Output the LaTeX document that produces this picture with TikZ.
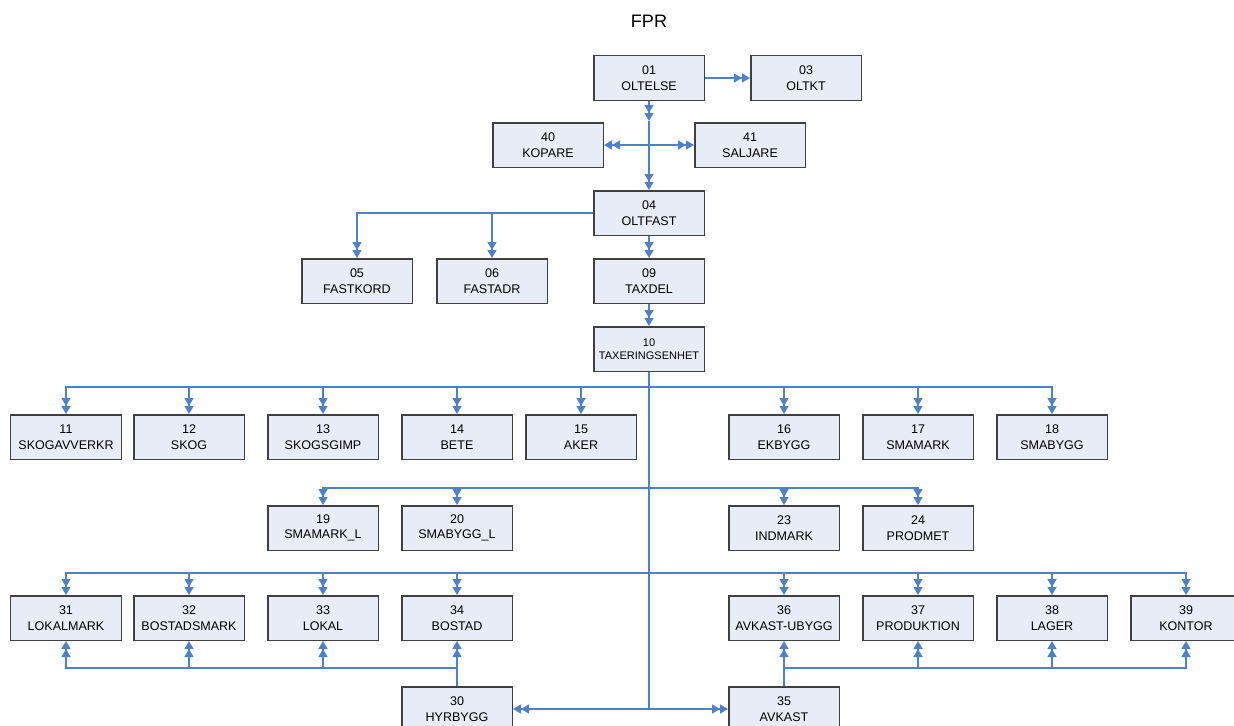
\documentclass[tikz,border=0pt]{standalone}
\usepackage{fontspec}
\setmainfont{Liberation Sans}
\usepackage{tikz}
\usetikzlibrary{positioning,arrows.meta}

\definecolor{fill-a}{RGB}{231,236,246}
\definecolor{edge-a}{RGB}{64,64,64}
\definecolor{wire-a}{RGB}{79,129,199}

\begin{document}
\begin{tikzpicture}
[
x=0.3mm, y=-0.3mm,
box-a/.style={rectangle, draw=edge-a, line width=0.45mm, fill=fill-a, inner sep=0mm,
              minimum width=33.15mm, minimum height=13.35mm, align=center,
              font=\fontsize{10.7}{13.4}\selectfont},
box-b/.style={box-a, font=\fontsize{9.4}{10.8}\selectfont},
title-a/.style={black, font=\fontsize{15.4}{18}\selectfont},
line-a/.style={draw=wire-a, line width=0.40mm},
arr-a/.style={line-a, -{Triangle[length=2.40mm,width=2.70mm]Triangle[length=2.40mm,width=2.70mm]}},
arr-b/.style={line-a, {Triangle[length=2.40mm,width=2.70mm]Triangle[length=2.40mm,width=2.70mm]}-{Triangle[length=2.40mm,width=2.70mm]Triangle[length=2.40mm,width=2.70mm]}}
]
\useasboundingbox (0,0) rectangle (1234,726);
\node (title) [title-a] at (649,21) {FPR};
% top part
\node (n01) [box-a] at (649,78)                  {01\\OLTELSE};
\node (n03) [box-a, right =  13.50mm of n01]     {03\\OLTKT};
\node (n40) [box-a] at (548,145)                 {40\\KOPARE};
\node (n41) [box-a] at (750,145)                 {41\\SALJARE};
\node (n04) [box-a, below =  26.70mm of n01]     {04\\OLTFAST};
\node (n09) [box-a, below =  06.60mm of n04]     {09\\TAXDEL};
\node (n10) [box-b, below =  06.60mm of n09]     {10\\TAXERINGSENHET};
\node (n06) [box-a, left  =  13.50mm of n09]     {06\\FASTADR};
\node (n05) [box-a, left  =  06.90mm of n06]     {05\\FASTKORD};
% first row
\node (n11) [box-a] at (66,437)                  {11\\SKOGAVVERKR};
\node (n12) [box-a, right =  03.30mm of n11]     {12\\SKOG};
\node (n13) [box-a, right =  06.60mm of n12]     {13\\SKOGSGIMP};
\node (n14) [box-a, right =  06.60mm of n13]     {14\\BETE};
\node (n15) [box-a, right =  03.60mm of n14]     {15\\AKER};
\node (n16) [box-a, right =  27.30mm of n15]     {16\\EKBYGG};
\node (n17) [box-a, right =  06.60mm of n16]     {17\\SMAMARK};
\node (n18) [box-a, right =  06.60mm of n17]     {18\\SMABYGG};
% second row
\node (n19) [box-a, below =  13.50mm of n13]     {19\\SMAMARK\_L};
\node (n20) [box-a, below =  13.50mm of n14]     {20\\SMABYGG\_L};
\node (n23) [box-a, below =  13.50mm of n16]     {23\\INDMARK};
\node (n24) [box-a, below =  13.50mm of n17]     {24\\PRODMET};
% third row
\node (n31) [box-a, below =  40.50mm of n11]     {31\\LOKALMARK};
\node (n32) [box-a, below =  40.50mm of n12]     {32\\BOSTADSMARK};
\node (n33) [box-a, below =  13.20mm of n19]     {33\\LOKAL};
\node (n34) [box-a, below =  13.20mm of n20]     {34\\BOSTAD};
\node (n36) [box-a, below =  13.20mm of n23]     {36\\AVKAST-UBYGG};
\node (n37) [box-a, below =  13.20mm of n24]     {37\\PRODUKTION};
\node (n38) [box-a, below =  40.50mm of n18]     {38\\LAGER};
\node (n39) [box-a, right =  06.60mm of n38]     {39\\KONTOR};
% bottom row
\node (n30) [box-a, below =  13.50mm of n34]     {30\\HYRBYGG};
\node (n35) [box-a, below =  13.50mm of n36]     {35\\AVKAST};
% junctions
\coordinate (j01)   at (649,121);
\coordinate (j10)   at (n10.south |- n30.west);
\coordinate (bus-1) at (649,387);
\coordinate (bus-2) at (649,488);
\coordinate (bus-3) at (649,573);
\coordinate (lvl-4) at (0,668);
\coordinate (bus-4) at (n30.north |- lvl-4);
\coordinate (bus-5) at (n35.north |- lvl-4);
% connectors
\draw[arr-a] (n01) -- (n03);
\draw[arr-a] (n01) -- (j01);
\draw[arr-a] (j01) -- (n04);
\draw[arr-b] (n40) -- (n41);
\draw[arr-a] (n04.west) -| (n05);
\draw[arr-a] (n04.west) -| (n06);
\draw[arr-a] (n04) -- (n09);
\draw[arr-a] (n09) -- (n10);
\draw[line-a] (n10) -- (j10);
\draw[arr-b] (n30) -- (n35);
\draw[arr-a] (bus-1) -| (n11);
\draw[arr-a] (bus-1) -| (n12);
\draw[arr-a] (bus-1) -| (n13);
\draw[arr-a] (bus-1) -| (n14);
\draw[arr-a] (bus-1) -| (n15);
\draw[arr-a] (bus-1) -| (n16);
\draw[arr-a] (bus-1) -| (n17);
\draw[arr-a] (bus-1) -| (n18);
\draw[arr-a] (bus-2) -| (n19);
\draw[arr-a] (bus-2) -| (n20);
\draw[arr-a] (bus-2) -| (n23);
\draw[arr-a] (bus-2) -| (n24);
\draw[arr-a] (bus-3) -| (n31);
\draw[arr-a] (bus-3) -| (n32);
\draw[arr-a] (bus-3) -| (n33);
\draw[arr-a] (bus-3) -| (n34);
\draw[arr-a] (bus-3) -| (n36);
\draw[arr-a] (bus-3) -| (n37);
\draw[arr-a] (bus-3) -| (n38);
\draw[arr-a] (bus-3) -| (n39);
\draw[arr-a] (n30) -- (n34);
\draw[arr-a] (n30.north) -- (bus-4) -| (n31);
\draw[arr-a] (bus-4) -| (n32);
\draw[arr-a] (bus-4) -| (n33);
\draw[arr-a] (n35) -- (n36);
\draw[arr-a] (n35.north) -- (bus-5) -| (n37);
\draw[arr-a] (bus-5) -| (n38);
\draw[arr-a] (bus-5) -| (n39);
\end{tikzpicture}
\end{document}
